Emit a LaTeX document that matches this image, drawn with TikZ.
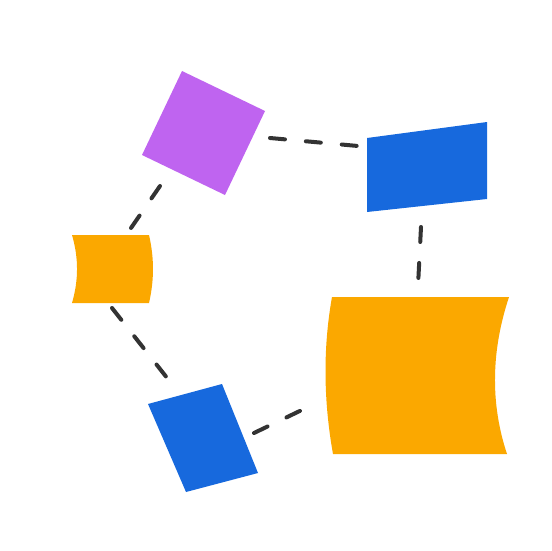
\documentclass[tikz,border=0pt]{standalone}
\usepackage{tikz}
\usetikzlibrary{calc}

\definecolor{shpurple}{HTML}{BF64F0}
\definecolor{shblue}{HTML}{1769DD}
\definecolor{shorange}{HTML}{FBA800}
\definecolor{shlink}{HTML}{333333}

\begin{document}
\begin{tikzpicture}[x=1pt, y=-1pt,
  link/.style={draw=shlink, line width=4pt, line cap=round, dash pattern=on 15pt off 21pt}
]

%% frame
\useasboundingbox[fill=white] (0,0) rectangle (551,551);

%% shapes
\fill[shpurple] (182,71) -- (265,111) -- (225,195) -- (142,155) -- cycle;
\fill[shblue] (367,138) -- (487,122) -- (487,199) -- (367,212) -- cycle;
\fill[shorange] (72,235) -- (149,235) .. controls (154.3,258) and (154.3,280) .. (149,303)
    -- (72,303) .. controls (78.7,280) and (78.7,258) .. (72,235) -- cycle;
\fill[shorange] (332,297) -- (509,297) .. controls (491.7,349) and (489.7,402) .. (507,454)
    -- (333,454) .. controls (323.7,402) and (322.7,349) .. (332,297) -- cycle;
\fill[shblue] (148,404) -- (222,384) -- (258,473) -- (186,492) -- cycle;

%% connector ends
\coordinate (sqA) at (270,138);
\coordinate (quadA) at (358,146);
\coordinate (sqB) at (160,186);
\coordinate (bendA) at (131,228);
\coordinate (quadB) at (421,227);
\coordinate (bigA) at (418,286);
\coordinate (bendB) at (112,308);
\coordinate (rectA) at (175,388);
\coordinate (rectB) at (254,433);
\coordinate (bigB) at (306,408);

%% connectors
\draw[link] (sqA) -- (quadA);
\draw[link] (sqB) -- (bendA);
\draw[link] (quadB) -- (bigA);
\draw[link] (bendB) -- (rectA);
\draw[link] (rectB) -- (bigB);

\end{tikzpicture}
\end{document}
